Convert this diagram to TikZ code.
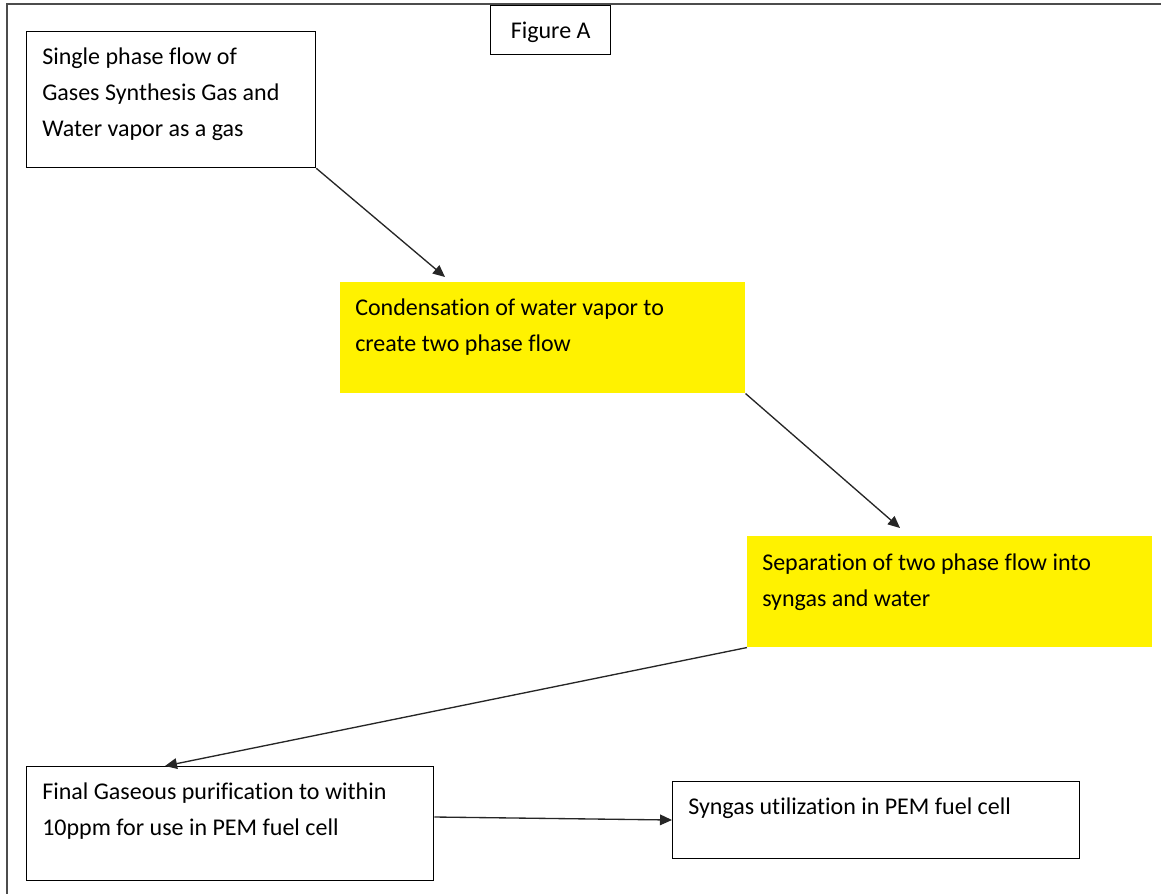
\documentclass[tikz,border=0pt]{standalone}
\usepackage{fontspec}
\setmainfont{Carlito}[Ligatures=NoCommon]
\usetikzlibrary{positioning}
\usetikzlibrary{arrows.meta}
\usetikzlibrary{calc}
\tikzstyle{stepbox}=[rectangle,draw=black,line width=1pt,fill=white,anchor=north west,inner sep=0pt]
\tikzstyle{hibox}=[rectangle,fill=yellow,anchor=north west,inner sep=0pt]
\tikzstyle{boxtext}=[anchor=north west,inner sep=0pt,align=left,font=\fontsize{18}{27}\selectfont]
\tikzstyle{flow} = [draw,line width=1pt,black!85,-{Triangle[length=9pt,width=8pt]}]

\begin{document}
\begin{tikzpicture}[x=0.75pt,y=-0.75pt]
    \useasboundingbox (0,0) rectangle (1161,894);
    % page frame
    \draw[line width=1.6pt,black!70] (1161,4) -- (7,4) -- (7,894);

    \node[stepbox,minimum width=90pt,minimum height=36.75pt] (figA) at (490,5) {};
    \node[font=\fontsize{18}{27}\selectfont] (figAtext) at ($(figA.center)+(0,2)$) {Figure A};

    \node[stepbox,minimum width=216.75pt,minimum height=102pt] (single) at (26,31) {};
    \node[hibox,minimum width=303.75pt,minimum height=83.25pt] (condense) at (340,282) {};
    \node[hibox,minimum width=303.75pt,minimum height=83.25pt] (separate) at (747,536) {};
    \node[stepbox,minimum width=305.25pt,minimum height=85.5pt] (final) at (26,766) {};
    \node[stepbox,minimum width=305.25pt,minimum height=57.75pt] (utilize) at (672,781) {};

    \node[boxtext] (singletext) at ($(single.north west)+(16,17)$)
        {Single phase flow of\\Gases Synthesis Gas and\\Water vapor as a gas};
    \node[boxtext] (condensetext) at ($(condense.north west)+(15,17)$)
        {Condensation of water vapor to\\create two phase flow};
    \node[boxtext] (separatetext) at ($(separate.north west)+(15,18)$)
        {Separation of two phase flow into\\syngas and water};
    \node[boxtext] (finaltext) at ($(final.north west)+(16,17)$)
        {Final Gaseous purification to within\\10ppm for use in PEM fuel cell};
    \node[boxtext] (utilizetext) at ($(utilize.north west)+(16,17)$)
        {Syngas utilization in PEM fuel cell};

    \path[flow] (single.south east) -- ($(condense.north west)+(105,-5)$);
    \path[flow] (condense.south east) -- ($(separate.north west)+(153,-8)$);
    \path[flow] (separate.south west) -- ($(final.north west)+(139,0)$);
    \path[flow] ($(final.north east)+(0,51)$) -- ($(utilize.north west)+(0,39)$);
\end{tikzpicture}
\end{document}
